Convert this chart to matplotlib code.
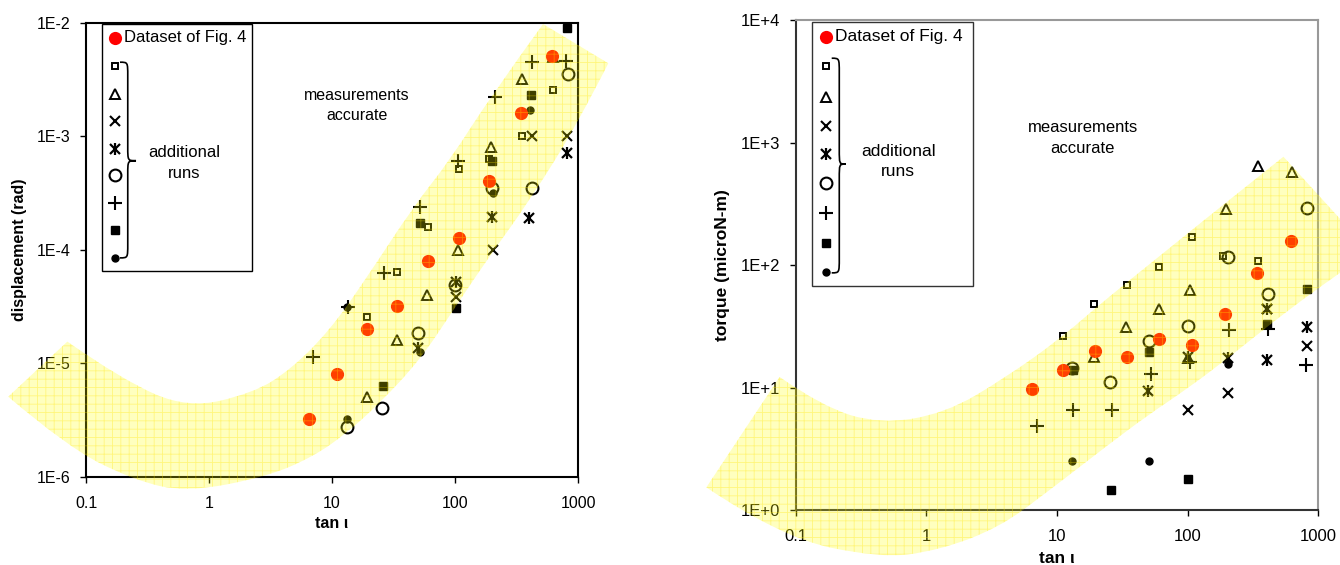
import matplotlib
matplotlib.use('Agg')
import matplotlib.pyplot as plt
from matplotlib.path import Path
from matplotlib.patches import PathPatch, Rectangle

plt.rcParams['font.family'] = ['Liberation Sans', 'DejaVu Sans']
plt.rcParams['hatch.linewidth'] = 0.6

# ---------------- data: left panel (displacement) ----------------
L_red_x = [6.5, 10.9, 19.4, 33.6, 60.7, 108, 190, 342, 618]
L_red_y = [3.2e-6, 8.0e-6, 2.0e-5, 3.2e-5, 7.9e-5, 1.28e-4, 4.0e-4, 1.59e-3, 5.1e-3]
L_sq_x = [10.9, 19.4, 34, 60, 108, 190, 348, 622]
L_sq_y = [8e-6, 2.53e-5, 6.3e-5, 1.6e-4, 5.1e-4, 6.3e-4, 1.0e-3, 2.55e-3]
L_tri_x = [19.1, 33.6, 59.6, 105, 195, 352, 622]
L_tri_y = [5.07e-6, 1.6e-5, 4.0e-5, 1.0e-4, 8.07e-4, 3.17e-3, 5.0e-3]
L_x_x = [101, 205, 420, 809]
L_x_y = [3.8e-5, 1.0e-4, 1.0e-3, 1.0e-3]
L_ast_x = [50.4, 101, 199, 402, 818]
L_ast_y = [1.35e-5, 5.2e-5, 1.95e-4, 1.89e-4, 7.06e-4]
L_circ_x = [13.2, 25.6, 50.4, 100, 200, 420, 830]
L_circ_y = [2.75e-6, 4.0e-6, 1.83e-5, 4.9e-5, 3.5e-4, 3.5e-4, 3.53e-3]
L_plus_x = [6.97, 13.4, 26.5, 51.9, 106, 211, 420, 800]
L_plus_y = [1.14e-5, 3.1e-5, 6.2e-5, 2.39e-4, 6.0e-4, 2.23e-3, 4.5e-3, 4.6e-3]
L_fsq_x = [26.1, 51.9, 102, 200, 415, 809]
L_fsq_y = [6.3e-6, 1.73e-4, 3.08e-5, 6.0e-4, 2.3e-3, 8.9e-3]
L_fcirc_x = [13.2, 13.2, 51.9, 205, 410]
L_fcirc_y = [3.2e-6, 3.1e-5, 1.26e-5, 3.14e-4, 1.7e-3]

# band boundaries (inner edge, outer edge)
L_band_in_x = [0.0705, 0.198, 0.672, 2.28, 4.56, 9.64, 19.3, 45.6, 91, 193, 519]
L_band_in_y = [1.55e-5, 7.1e-6, 4.0e-6, 5.46e-6, 8.7e-6, 1.96e-5, 5.75e-5, 2.38e-4,
               6.17e-4, 2.21e-3, 9.74e-3]
L_band_out_x = [0.0233, 0.0697, 0.243, 0.659, 2.94, 7.02, 13.2, 24.5, 51.9, 96.8, 181,
                407, 995, 1762]
L_band_out_y = [5.07e-6, 1.84e-6, 9.35e-7, 7.3e-7, 1.0e-6, 1.5e-6, 2.43e-6, 4.46e-6,
                1.07e-5, 2.94e-5, 8.1e-5, 2.74e-4, 1.3e-3, 4.39e-3]

# ---------------- data: right panel (torque) ----------------
R_red_x = [6.49, 11.1, 19.6, 34.2, 60.8, 108, 194, 342, 617]
R_red_y = [9.7, 13.9, 20, 17.6, 24.9, 22.2, 39.6, 86.5, 157]
R_sq_x = [11.1, 19.3, 34.2, 60.8, 108, 188, 345, 617]
R_sq_y = [26.5, 48.1, 68.7, 96.9, 170, 119, 108, 155]
R_tri_x = [19.1, 33.6, 60, 100, 104.5, 197, 345, 628]
R_tri_y = [17.6, 31, 43.8, 17.3, 62.5, 285, 647, 578]
R_x_x = [100, 203, 405, 818]
R_x_y = [6.6, 8.97, 43.5, 21.8]
R_ast_x = [50.1, 100, 203, 405, 405, 818]
R_ast_y = [9.4, 17.6, 17.3, 16.8, 44, 31]
R_circ_x = [13, 25.5, 50.3, 100, 203, 410, 820]
R_circ_y = [14.4, 11, 24.1, 31.9, 117, 58, 294]
R_plus_x = [7, 13.3, 26.2, 52.5, 104.5, 209, 410, 810]
R_plus_y = [4.87, 6.55, 6.6, 12.8, 16.3, 29.4, 30, 15.3]
R_fsq_x = [13.3, 26, 51, 101, 405, 818]
R_fsq_y = [14, 1.46, 19.6, 1.78, 33, 63.2]
R_fcirc_x = [13, 50.6, 203]
R_fcirc_y = [2.52, 2.49, 15.5]

R_band_in_x = [0.0753, 0.160, 0.442, 1.39, 4.01, 11.1, 25.5, 541]
R_band_in_y = [12.2, 6.97, 5.04, 6.15, 11.97, 26.0, 56.9, 766]
R_band_out_x = [0.0207, 0.0758, 0.442, 1.27, 3.66, 8.4, 24.6, 49.9, 101, 204, 822, 2494]
R_band_out_y = [1.53, 0.605, 0.404, 0.471, 0.726, 1.40, 3.40, 5.97, 9.9, 17.4, 56.9, 128]

x_ticks = [0.1, 1, 10, 100, 1000]
x_ticklabels = ['0.1', '1', '10', '100', '1000']
L_yticks = [1e-6, 1e-5, 1e-4, 1e-3, 1e-2]
L_yticklabels = ['1E-6', '1E-5', '1E-4', '1E-3', '1E-2']
R_yticks = [1, 10, 100, 1000, 10000]
R_yticklabels = ['1E+0', '1E+1', '1E+2', '1E+3', '1E+4']

MARKERS = {
    'square': dict(marker='s', ms=5, mfc='none', mew=1.4),
    'triangle': dict(marker='^', ms=6.5, mfc='none', mew=1.4),
    'cross': dict(marker='x', ms=7.5, mew=1.5),
    'circle': dict(marker='o', ms=8.5, mfc='none', mew=1.5),
    'plus': dict(marker='+', ms=9.5, mew=1.5),
    'fsquare': dict(marker='s', ms=5.5),
    'fcircle': dict(marker='o', ms=5),
}
ORDER = ['square', 'triangle', 'cross', 'asterisk', 'circle', 'plus', 'fsquare', 'fcircle']


def put(ax, x, y, kind, z=3, **kw):
    if kind == 'red':
        ax.plot(x, y, ls='none', marker='o', ms=9.5, color='#ff0000', mec='none', zorder=z, **kw)
    elif kind == 'asterisk':
        ax.plot(x, y, ls='none', marker='x', ms=7, mew=1.6, color='black', zorder=z, **kw)
        ax.plot(x, y, ls='none', marker='|', ms=8.5, mew=1.6, color='black', zorder=z, **kw)
    else:
        ax.plot(x, y, ls='none', color='black', zorder=z, **MARKERS[kind], **kw)


def gmid(p, q):
    return ((p[0] * q[0]) ** 0.5, (p[1] * q[1]) ** 0.5)


def smooth(pts, verts, codes):
    # quadratic smoothing through the picked points, sharp at both ends
    n = len(pts)
    if n == 2:
        verts.append(pts[1])
        codes.append(Path.LINETO)
        return
    for i in range(1, n - 1):
        end = pts[n - 1] if i == n - 2 else gmid(pts[i], pts[i + 1])
        verts += [pts[i], end]
        codes += [Path.CURVE3, Path.CURVE3]


def draw_band(ax, ix, iy, ox, oy):
    inner = list(zip(ix, iy))
    outer = list(zip(ox, oy))[::-1]
    verts = [inner[0]]
    codes = [Path.MOVETO]
    smooth(inner, verts, codes)
    verts.append(outer[0])
    codes.append(Path.LINETO)
    smooth(outer, verts, codes)
    verts.append(inner[0])
    codes.append(Path.CLOSEPOLY)
    path = Path(verts, codes)
    ax.add_patch(PathPatch(path, facecolor=(1, 1, 0, 0.25), edgecolor='none', lw=0,
                           zorder=5, clip_on=False))
    ax.add_patch(PathPatch(path, facecolor='none', edgecolor=(1, 0.9, 0, 0.35), hatch='++',
                           lw=0, zorder=5, clip_on=False))


def brace(ax, x0, xm, xt, y0, ym, y1, r):
    verts = [(x0, y1), (xm, y1), (xm, y1), (xm, y1 - r),
             (xm, ym + r),
             (xm, ym), (xm, ym), (xt, ym),
             (xm, ym), (xm, ym), (xm, ym - r),
             (xm, y0 + r),
             (xm, y0), (xm, y0), (x0, y0)]
    codes = [Path.MOVETO, Path.CURVE4, Path.CURVE4, Path.CURVE4,
             Path.LINETO,
             Path.CURVE4, Path.CURVE4, Path.CURVE4,
             Path.CURVE4, Path.CURVE4, Path.CURVE4,
             Path.LINETO,
             Path.CURVE4, Path.CURVE4, Path.CURVE4]
    ax.add_patch(PathPatch(Path(verts, codes), transform=ax.transAxes, fc='none',
                           ec='black', lw=1.2, zorder=6))


def legend_box(ax, box, mx, ys, tx, brace_pos, runs_xy, fs, ec):
    bx0, by0, bx1, by1 = box
    ax.add_patch(Rectangle((bx0, by0), bx1 - bx0, by1 - by0, transform=ax.transAxes,
                           fc='white', ec=ec, lw=1.0, zorder=4))
    put(ax, [mx], [ys[0]], 'red', z=6, transform=ax.transAxes, clip_on=False)
    ax.text(tx, ys[0], 'Dataset of Fig. 4', transform=ax.transAxes, fontsize=fs,
            va='center', ha='left', zorder=6)
    for kind, yy in zip(ORDER, ys[1:]):
        put(ax, [mx], [yy], kind, z=6, transform=ax.transAxes, clip_on=False)
    brace(ax, *brace_pos)
    ax.text(runs_xy[0], runs_xy[1], 'additional\nruns', transform=ax.transAxes,
            fontsize=fs, ha='center', va='center', linespacing=1.45, zorder=6)


def setup(ax, yticks, ylabels, fs):
    ax.set_xscale('log')
    ax.set_yscale('log')
    ax.set_xlim(0.1, 1000)
    ax.set_ylim(yticks[0], yticks[-1])
    ax.set_xticks(x_ticks)
    ax.set_xticklabels(x_ticklabels)
    ax.set_yticks(yticks)
    ax.set_yticklabels(ylabels)
    ax.minorticks_off()
    ax.tick_params(axis='x', length=4, width=1, pad=10, labelsize=fs)
    ax.tick_params(axis='y', length=4, width=1, pad=7, labelsize=fs)


fig = plt.figure(figsize=(13.4, 5.65), dpi=100)

# ---------------- left panel ----------------
axL = fig.add_axes([0.0642, 0.1563, 0.3672, 0.8035])
setup(axL, L_yticks, L_yticklabels, 11.5)
for s in axL.spines.values():
    s.set_linewidth(1.5)
    s.set_color('black')
put(axL, L_sq_x, L_sq_y, 'square')
put(axL, L_tri_x, L_tri_y, 'triangle')
put(axL, L_x_x, L_x_y, 'cross')
put(axL, L_ast_x, L_ast_y, 'asterisk')
put(axL, L_circ_x, L_circ_y, 'circle')
put(axL, L_plus_x, L_plus_y, 'plus')
put(axL, L_fsq_x, L_fsq_y, 'fsquare', clip_on=False)
put(axL, L_fcirc_x, L_fcirc_y, 'fcircle')
put(axL, L_red_x, L_red_y, 'red')
draw_band(axL, L_band_in_x, L_band_in_y, L_band_out_x, L_band_out_y)
axL.set_xlim(0.1, 1000)
axL.set_ylim(1e-6, 1e-2)
legend_box(axL, (0.0319, 0.453, 0.338, 0.997), 0.0583,
           [0.967, 0.905, 0.843, 0.783, 0.721, 0.665, 0.602, 0.543, 0.482], 0.077,
           (0.069, 0.0848, 0.1016, 0.482, 0.696, 0.913, 0.03), (0.199, 0.691), 12, 'black')
axL.text(0.55, 0.817, 'measurements\naccurate', transform=axL.transAxes, fontsize=11.5,
         ha='center', va='center', linespacing=1.45)
axL.set_ylabel('displacement (rad)', fontsize=11.5, fontweight='bold')
axL.yaxis.set_label_coords(-0.12, 0.5)
axL.set_xlabel('tan \u03b9', fontsize=11.5, fontweight='bold')
axL.xaxis.set_label_coords(0.5, -0.087)

# ---------------- right panel ----------------
axR = fig.add_axes([0.5938, 0.0973, 0.39, 0.8673])
setup(axR, R_yticks, R_yticklabels, 12)
for k, s in axR.spines.items():
    s.set_linewidth(1.5)
    s.set_color('#333333' if k in ('left', 'bottom') else '#999999')
put(axR, R_sq_x, R_sq_y, 'square')
put(axR, R_tri_x, R_tri_y, 'triangle')
put(axR, R_x_x, R_x_y, 'cross')
put(axR, R_ast_x, R_ast_y, 'asterisk')
put(axR, R_circ_x, R_circ_y, 'circle')
put(axR, R_plus_x, R_plus_y, 'plus')
put(axR, R_fsq_x, R_fsq_y, 'fsquare')
put(axR, R_fcirc_x, R_fcirc_y, 'fcircle')
put(axR, R_red_x, R_red_y, 'red')
draw_band(axR, R_band_in_x, R_band_in_y, R_band_out_x, R_band_out_y)
axR.set_xlim(0.1, 1000)
axR.set_ylim(1, 1e4)
legend_box(axR, (0.0306, 0.458, 0.34, 0.9965), 0.0574,
           [0.966, 0.906, 0.842, 0.784, 0.727, 0.667, 0.606, 0.545, 0.486], 0.075,
           (0.0689, 0.0834, 0.0957, 0.484, 0.706, 0.922, 0.03), (0.196, 0.711), 12.5, '#333333')
axR.text(0.549, 0.759, 'measurements\naccurate', transform=axR.transAxes, fontsize=12,
         ha='center', va='center', linespacing=1.45)
axR.set_ylabel('torque (microN-m)', fontsize=12.5, fontweight='bold')
axR.yaxis.set_label_coords(-0.126, 0.5)
axR.set_xlabel('tan \u03b9', fontsize=12.5, fontweight='bold')
axR.xaxis.set_label_coords(0.5, -0.084)

fig.savefig('out.png', dpi=100)
